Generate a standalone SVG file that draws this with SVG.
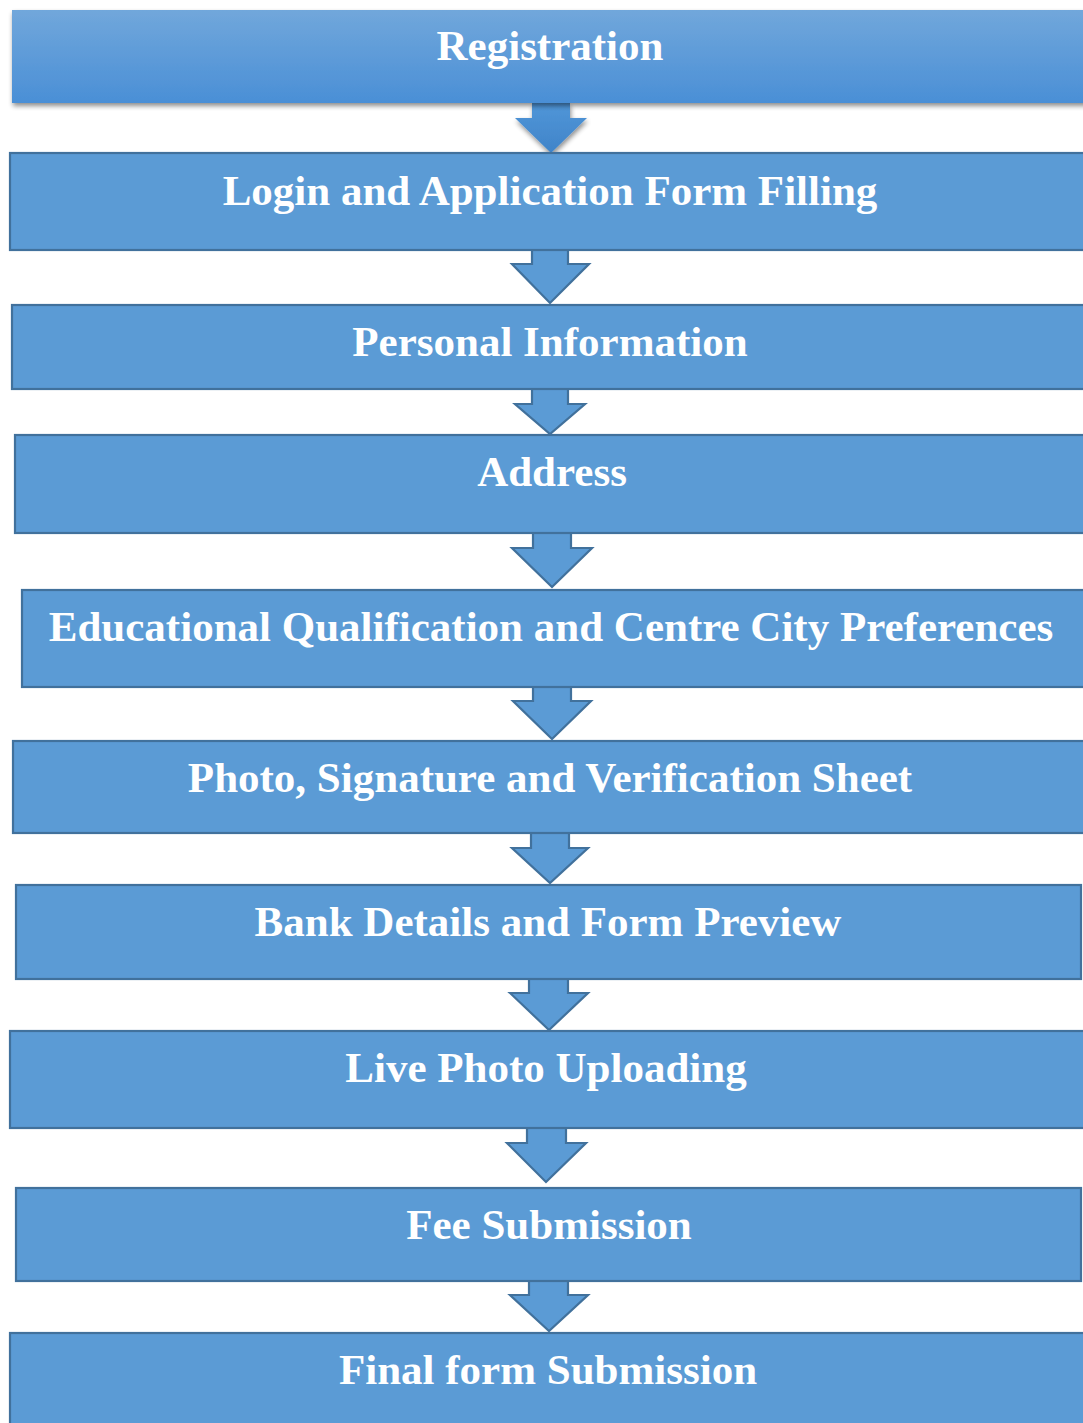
<svg xmlns="http://www.w3.org/2000/svg" width="1083" height="1423" viewBox="0 0 1083 1423">
<defs>
<linearGradient id="g1" x1="0" y1="0" x2="0" y2="1">
<stop offset="0" stop-color="#71a7db"/>
<stop offset="1" stop-color="#4a8fd6"/>
</linearGradient>
<linearGradient id="g2" x1="0" y1="0" x2="0" y2="1">
<stop offset="0" stop-color="#5196d8"/>
<stop offset="1" stop-color="#3f84c9"/>
</linearGradient>
<filter id="sh" x="-5%" y="-20%" width="110%" height="150%">
<feGaussianBlur in="SourceAlpha" stdDeviation="2.5"/>
<feOffset dx="1" dy="3" result="b"/>
<feComponentTransfer><feFuncA type="linear" slope="0.45"/></feComponentTransfer>
<feMerge><feMergeNode/><feMergeNode in="SourceGraphic"/></feMerge>
</filter>
</defs>
<style>
.box{fill:#5b9bd5;stroke:#41719c;stroke-width:2.2}
.arr{fill:#5b9bd5;stroke:#41719c;stroke-width:2.2;stroke-linejoin:miter}
.t{font-family:"Liberation Serif","Times New Roman",serif;font-weight:bold;font-size:43px;fill:#ffffff;text-anchor:middle}
</style>
<rect width="1083" height="1423" fill="#ffffff"/>
<g id="connectors">
<polygon points="532,103 570,103 570,118 587,118 551,153 515,118 532,118" fill="url(#g2)" filter="url(#sh)"/>
<polygon class="arr" points="532,250 568,250 568,264 589,264 550,303 512,264 532,264"/>
<polygon class="arr" points="532,389 568,389 568,404 585,404 550,434 515,404 532,404"/>
<polygon class="arr" points="533,533 571,533 571,548 592,548 552,587 512,548 533,548"/>
<polygon class="arr" points="533,687 571,687 571,701 591,701 552,739 513,701 533,701"/>
<polygon class="arr" points="531,833 569,833 569,848 588,848 550,883 512,848 531,848"/>
<polygon class="arr" points="529,979 568,979 568,993 588,993 549,1030 510,993 529,993"/>
<polygon class="arr" points="527,1128 566,1128 566,1143 586,1143 546,1182 507,1143 527,1143"/>
<polygon class="arr" points="529,1281 568,1281 568,1295 588,1295 549,1331 510,1295 529,1295"/>
</g>
<g id="n1"><rect x="12" y="10" width="1080" height="93" fill="url(#g1)" filter="url(#sh)"/><text class="t" x="550" y="60">Registration</text></g>
<g id="n2"><rect class="box" x="10" y="153" width="1080" height="97"/><text class="t" x="550" y="205">Login and Application Form Filling</text></g>
<g id="n3"><rect class="box" x="12" y="305" width="1080" height="84"/><text class="t" x="550" y="356">Personal Information</text></g>
<g id="n4"><rect class="box" x="15" y="435" width="1080" height="98"/><text class="t" x="552" y="486">Address</text></g>
<g id="n5"><rect class="box" x="22" y="590" width="1080" height="97"/><text class="t" x="551" y="641">Educational Qualification and Centre City Preferences</text></g>
<g id="n6"><rect class="box" x="13" y="741" width="1080" height="92"/><text class="t" x="550" y="792">Photo, Signature and Verification Sheet</text></g>
<g id="n7"><rect class="box" x="16" y="885" width="1065" height="94"/><text class="t" x="548" y="936">Bank Details and Form Preview</text></g>
<g id="n8"><rect class="box" x="10" y="1031" width="1080" height="97"/><text class="t" x="546" y="1082">Live Photo Uploading</text></g>
<g id="n9"><rect class="box" x="16" y="1188" width="1065" height="93"/><text class="t" x="549" y="1239">Fee Submission</text></g>
<g id="n10"><rect class="box" x="10" y="1333" width="1080" height="100"/><text class="t" x="548" y="1384">Final form Submission</text></g>
</svg>
